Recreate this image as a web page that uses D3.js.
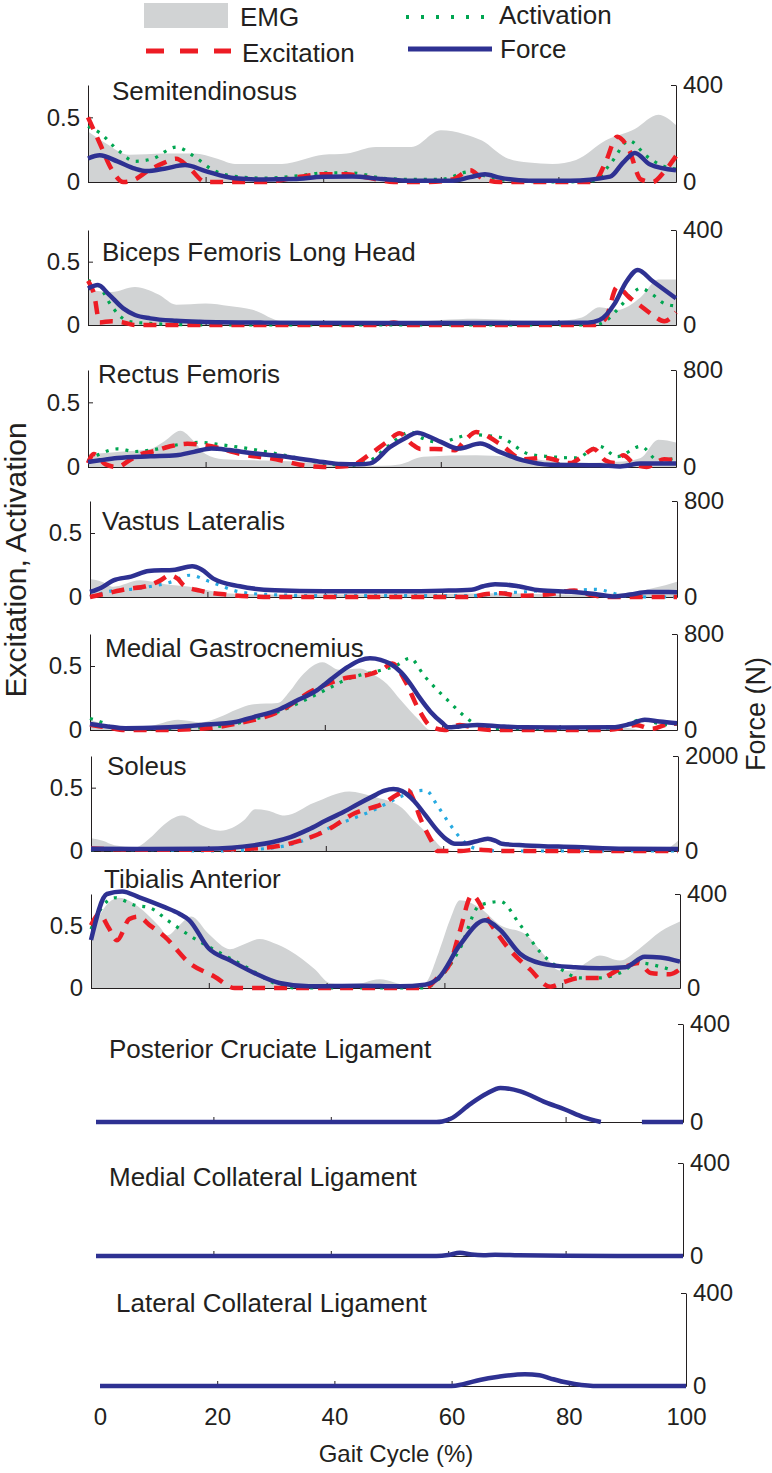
<!DOCTYPE html>
<html><head><meta charset="utf-8">
<script src="https://cdn.jsdelivr.net/npm/d3@7"></script>
<style>
body{margin:0;background:#fff}
svg{display:block}
text{font-family:"Liberation Sans",Arial,sans-serif;fill:#231f20}
</style>
</head><body>
<svg id="c" width="772" height="1473"></svg>
<script>
// ---------- categories / labels ----------
const panelNames = ["Semitendinosus","Biceps Femoris Long Head","Rectus Femoris","Vastus Lateralis",
  "Medial Gastrocnemius","Soleus","Tibialis Anterior","Posterior Cruciate Ligament",
  "Medial Collateral Ligament","Lateral Collateral Ligament"];
const forceMax = [400,400,800,800,800,2000,400,400,400,400];
const leftTickValues = [0,0.5];
const xTickValues = [0,20,40,60,80,100];
const legendLabels = ["EMG","Excitation","Activation","Force"];
const xTitle = "Gait Cycle (%)";
const yLeftTitle = "Excitation, Activation";
const yRightTitle = "Force (N)";

// ---------- series: [gait %, value] ----------
// Semitendinosus
const stEmg = [[0,0.39],[3,0.30],[7,0.21],[13,0.22],[18,0.22],[22,0.18],[25,0.14],[33,0.14],[40,0.21],[44,0.22],[49,0.27],[55,0.27],[60,0.40],[64,0.37],[67,0.32],[71,0.19],[75,0.15],[79,0.14],[83,0.17],[88,0.32],[93,0.41],[97,0.52],[100,0.44]];
const stExc = [[0,0.50],[2,0.30],[4,0.10],[6,0.0],[8,0.02],[10,0.08],[13,0.15],[15,0.18],[17,0.12],[20,0.0],[25,0.0],[30,0.0],[36,0.04],[40,0.06],[44,0.06],[48,0.03],[52,0.0],[58,0.0],[62,0.02],[65,0.09],[67,0.03],[70,0.0],[80,0.0],[86,0.0],[88,0.15],[90,0.35],[92,0.25],[94,0.02],[96,0.0],[98,0.08],[100,0.20]];
const stAct = [[0,0.43],[2,0.38],[5,0.25],[8,0.16],[11,0.18],[15,0.27],[18,0.20],[21,0.10],[24,0.05],[30,0.03],[36,0.05],[40,0.07],[45,0.07],[50,0.03],[55,0.02],[60,0.02],[65,0.08],[68,0.04],[72,0.01],[80,0.0],[86,0.01],[89,0.15],[92,0.32],[95,0.20],[98,0.12],[100,0.10]];
const stForce = [[0,97],[2,110],[5,85],[8,55],[10,45],[13,55],[16.5,70],[20,45],[25,15],[30,10],[35,12],[40,22],[45,23],[50,12],[55,5],[62,5],[65,20],[67.5,32],[70,18],[75,5],[82,5],[88.8,22],[91,80],[93,120],[95.6,72],[100,48]];
// Biceps Femoris Long Head
const bfEmg = [[0,0.28],[4,0.26],[8,0.30],[12,0.24],[15,0.16],[20,0.17],[24,0.15],[28,0.12],[33,0.03],[40,0.02],[53,0.02],[60,0.04],[66,0.05],[72,0.04],[79,0.03],[84,0.06],[87,0.14],[90,0.12],[94,0.22],[97,0.36],[100,0.36]];
const bfExc = [[0,0.35],[1,0.25],[2,0.02],[4,0.03],[6,0.02],[8,0.0],[20,0.0],[50,0.0],[52,0.02],[54,0.0],[86,0.0],[88,0.05],[90,0.30],[92,0.22],[94,0.15],[96,0.08],[98,0.03],[100,0.10]];
const bfAct = [[0,0.35],[2,0.30],[4,0.15],[6,0.05],[8,0.02],[20,0.0],[60,0.0],[86,0.0],[88,0.03],[90,0.12],[92,0.22],[94,0.29],[96,0.24],[98,0.17],[100,0.15]];
const bfForce = [[0,154],[1.7,168],[3.5,130],[6,70],[8,42],[10.6,28],[15,18],[19,14],[30,10],[50,8],[70,8],[85,10],[87,21],[89.6,91],[91.5,180],[93.5,232],[96,185],[100,112]];
// Rectus Femoris
const rfEmg = [[0,0.10],[6,0.12],[10.6,0.14],[13,0.20],[15.7,0.28],[18,0.20],[20,0.10],[23,0.06],[30,0.05],[36,0.04],[44.6,0.01],[50,0.01],[53,0.02],[57,0.08],[66,0.09],[74,0.07],[83,0.03],[90,0.04],[94,0.07],[97,0.21],[100,0.19]];
const rfExc = [[0,0.03],[1,0.10],[3,0.02],[5,0.0],[7,0.05],[9,0.10],[11,0.12],[14,0.16],[17,0.18],[21,0.16],[26,0.10],[32,0.06],[37,0.01],[40,0.0],[44.6,0.01],[48,0.10],[51,0.20],[53,0.26],[55,0.18],[56.5,0.14],[59,0.14],[62.4,0.13],[64,0.20],[66,0.27],[70,0.18],[74,0.06],[77.7,0.07],[82,0.03],[84,0.08],[86,0.14],[88,0.05],[89.6,0.03],[91,0.09],[93,0.02],[95,0.0],[98,0.06],[100,0.05]];
const rfAct = [[0,0.05],[2,0.10],[5,0.14],[8,0.12],[10.6,0.13],[15,0.17],[19,0.19],[23,0.17],[27.6,0.14],[33.5,0.09],[40,0.03],[44,0.01],[48,0.05],[51,0.16],[54.8,0.27],[57,0.22],[60,0.19],[63,0.23],[65,0.25],[70,0.23],[75,0.10],[78.6,0.08],[83,0.07],[87,0.16],[90,0.08],[94,0.16],[97,0.05],[100,0.07]];
const rfForce = [[0,41],[2,55],[5,74],[10.6,88],[15,97],[18,125],[21,152],[24,140],[27.6,116],[34,83],[40,41],[43,25],[46,22],[48,30],[51.4,166],[54,240],[56,283],[58,250],[60,207],[63,152],[66.7,193],[70,124],[74,55],[78.6,19],[87,14],[90.5,5],[94,28],[100,28]];
// Vastus Lateralis
const vlEmg = [[0,0.14],[2,0.12],[4,0.08],[8.5,0.13],[12.8,0.10],[17,0.08],[23,0.03],[30,0.02],[50,0.02],[70,0.03],[80,0.02],[91,0.03],[96,0.07],[100,0.12]];
const vlExc = [[0,0.0],[3,0.03],[6,0.06],[10,0.09],[12,0.13],[13.6,0.17],[15,0.14],[16,0.09],[18.7,0.05],[23,0.02],[31.5,0.0],[40,0.0],[50,0.0],[60,0.0],[65,0.0],[67,0.02],[70,0.03],[73,0.01],[78,0.02],[82.5,0.05],[85,0.02],[88.5,0.0],[95,0.0],[100,0.0]];
const vlAct = [[0,0.0],[4,0.05],[7,0.06],[10,0.08],[14,0.12],[17,0.17],[20.4,0.12],[25.5,0.04],[30,0.02],[40,0.01],[60,0.01],[65,0.01],[70,0.03],[74,0.04],[78,0.05],[82,0.05],[86,0.06],[91,0.01],[95,0.0],[100,0.0]];
const vlForce = [[0,42],[2,80],[4,139],[7,170],[10,217],[14.5,228],[17.4,256],[19,230],[21,153],[25.5,89],[31.5,56],[40,47],[52.8,47],[60,52],[65,61],[67,90],[69,106],[71,102],[73,89],[76.6,56],[82.5,42],[86,25],[89,5],[92,20],[95,42],[100,40]];
// Medial Gastrocnemius
const mgEmg = [[0,0.08],[2,0.05],[4,0.02],[10,0.03],[15,0.08],[19,0.06],[22,0.10],[25,0.16],[27.6,0.20],[32,0.21],[34,0.30],[36,0.42],[39.6,0.53],[42.5,0.47],[46,0.48],[48,0.44],[50.6,0.36],[53,0.23],[56,0.08],[58,0.0],[88,0.0],[91,0.02],[94,0.0],[100,0.0]];
const mgExc = [[0,0.04],[3,0.02],[6,0.0],[12,0.0],[19,0.01],[25,0.05],[32,0.14],[38,0.31],[43,0.40],[48,0.44],[50,0.48],[51.5,0.52],[53.6,0.39],[56,0.16],[58,0.03],[60.4,0.0],[63,0.04],[66,0.01],[68.5,0.0],[88,0.0],[91,0.02],[93,0.04],[95.7,0.01],[99,0.05],[100,0.05]];
const mgAct = [[0,0.09],[2,0.06],[4,0.02],[10,0.01],[20,0.02],[27.6,0.08],[32,0.14],[36,0.22],[40,0.31],[44,0.40],[49,0.46],[52,0.50],[54.5,0.56],[57,0.42],[61,0.23],[65,0.065],[67.6,0.01],[80,0.01],[90,0.02],[94,0.08],[97,0.05],[99,0.04],[100,0.05]];
const mgForce = [[0,50],[3,30],[6,14],[12,20],[19,42],[25,69],[28,110],[32,167],[35,240],[38.7,333],[41,420],[44,528],[46,580],[47.7,597],[49.5,585],[51,556],[53,480],[54.5,389],[56,280],[58,153],[60,60],[61,22],[63,30],[66,42],[70,30],[74,22],[80,20],[89,22],[92,50],[94.5,86],[97,70],[100,56]];
// Soleus
const soEmg = [[0,0.10],[2,0.08],[4,0.045],[7.6,0.03],[10,0.10],[12,0.19],[15.5,0.28],[19,0.20],[22,0.16],[26,0.24],[28,0.33],[30,0.32],[33,0.28],[38,0.38],[44,0.47],[48,0.43],[53,0.34],[55,0.24],[58,0.11],[60,0.02],[62,0.0],[97,0.0],[100,0.08]];
const soExc = [[0,0.02],[10,0.01],[20,0.01],[27.6,0.02],[34,0.06],[40,0.16],[45,0.30],[50,0.38],[52,0.44],[54,0.48],[55,0.40],[56,0.27],[58,0.08],[59,0.0],[63,0.0],[65.5,0.01],[70,0.0],[100,0.0]];
const soAct = [[0,0.01],[10,0.01],[20,0.0],[30,0.02],[36,0.08],[41,0.19],[48,0.32],[52.8,0.43],[55,0.47],[57,0.48],[59,0.36],[61,0.22],[63,0.10],[65.5,0.02],[70,0.0],[100,0.0]];
const soForce = [[0,49],[10,40],[19,45],[24,70],[27.6,118],[31,190],[34,293],[37,450],[40,641],[43,820],[45.5,990],[48,1150],[50,1270],[51.5,1303],[53,1260],[55,1059],[57,750],[59,432],[60.5,250],[62,153],[64,160],[65.5,200],[67.6,258],[69,210],[70,153],[74,118],[82.5,84],[91,49],[100,40]];
// Tibialis Anterior
const taEmg = [[0,0.39],[1.4,0.57],[3,0.68],[4.8,0.72],[8,0.65],[11.6,0.49],[13,0.42],[15,0.50],[17,0.57],[20,0.43],[23.6,0.31],[26,0.35],[28.6,0.39],[31,0.36],[33.7,0.30],[38,0.15],[40.5,0.04],[44,0.02],[49,0.07],[54,0.02],[56.7,0.04],[59,0.28],[61,0.55],[62.6,0.70],[66,0.64],[69.5,0.50],[73.7,0.43],[77,0.26],[79.6,0.14],[82,0.14],[84,0.20],[86.4,0.26],[89.8,0.22],[93,0.31],[96.7,0.45],[100,0.53]];
const taExc = [[0,0.50],[1.4,0.59],[3,0.48],[4.4,0.38],[6.5,0.55],[8,0.57],[10,0.50],[12.5,0.41],[16.7,0.20],[21,0.09],[24.4,0.0],[28.6,0.0],[33.7,0.0],[44,0.0],[52,0.0],[56.7,0.0],[59,0.09],[61,0.20],[62.6,0.45],[64.7,0.74],[67.6,0.53],[71,0.31],[74.5,0.15],[78,0.01],[80.4,0.05],[83,0.08],[86.4,0.08],[89.8,0.15],[93,0.20],[95,0.12],[98.3,0.11],[100,0.15]];
const taAct = [[0,0.47],[1.4,0.61],[4,0.72],[7.5,0.66],[10,0.64],[13,0.54],[16.7,0.42],[22.7,0.26],[27,0.15],[31,0.04],[35,0.0],[45,0.0],[56.7,0.0],[59,0.07],[62.6,0.31],[66,0.66],[69.5,0.69],[72.9,0.50],[76.4,0.28],[79.8,0.15],[83,0.08],[86.4,0.08],[89.8,0.12],[93,0.20],[96.7,0.17],[100,0.12]];
const taForce = [[0,204],[2.7,400],[5.3,411],[8.2,386],[12.5,344],[15,316],[16.7,288],[20,168],[23.5,119],[27.8,63],[32,21],[37,7],[45.6,10],[52.4,7],[56.7,14],[59,42],[62.6,182],[66.9,288],[69.5,246],[72.8,147],[76.4,105],[82.2,88],[86.4,84],[90.7,88],[94,133],[96.7,130],[100,112]];
// Ligaments (force only)
const pclForce = [[0,0],[58,0],[59,2],[60.4,13],[63.8,74],[66.5,115],[68.9,139],[72.3,125],[76.6,80],[80,50],[83,20],[86,0],[88,null],[93,0],[100,0]];
const mclForce = [[0,0],[58,0],[60,4],[62,14],[64,6],[66,3],[68,5],[72,3],[80,1],[100,0]];
const lclForce = [[0,0],[60,0],[62,8],[64.8,26],[68,40],[72.5,51],[75,46],[76.8,33],[79,18],[81,9],[85,0],[100,0]];

// table for drawing
const series = [
  {emg:stEmg, exc:stExc, act:stAct, force:stForce},
  {emg:bfEmg, exc:bfExc, act:bfAct, force:bfForce},
  {emg:rfEmg, exc:rfExc, act:rfAct, force:rfForce},
  {emg:vlEmg, exc:vlExc, act:vlAct, force:vlForce, actAlt:true},
  {emg:mgEmg, exc:mgExc, act:mgAct, force:mgForce},
  {emg:soEmg, exc:soExc, act:soAct, force:soForce, actAlt:true},
  {emg:taEmg, exc:taExc, act:taAct, force:taForce},
  {force:pclForce},
  {force:mclForce},
  {force:lclForce}
];

// ---------- layout (pixels) ----------
const layout = [
  {x0:88, x1:676, base:182, h:97, tx:112, ty:100},
  {x0:88, x1:676, base:325, h:95, tx:102, ty:261},
  {x0:88, x1:676, base:467, h:97, tx:98,  ty:383},
  {x0:90, x1:677, base:597, h:96, tx:102, ty:530},
  {x0:90, x1:677, base:730, h:96, tx:105, ty:657},
  {x0:91, x1:678, base:851, h:95, tx:107, ty:775},
  {x0:91, x1:680, base:988, h:94, tx:104, ty:888},
  {x0:96, x1:683, base:1122,h:98, tx:109, ty:1058},
  {x0:96, x1:683, base:1256,h:93, tx:109, ty:1186},
  {x0:100,x1:686, base:1386,h:93, tx:116, ty:1312}
];
const C = {emg:"#d1d3d4", exc:"#ed1c24", act:"#00a651", actAlt:"#27aae1", force:"#2e3192", axis:"#231f20"};

const svg = d3.select("#c");

layout.forEach((g, i) => {
  const s = series[i];
  const isMuscle = !!s.emg;
  const x = d3.scaleLinear().domain([0,100]).range([g.x0, g.x1]);
  const yL = d3.scaleLinear().domain([0,0.75]).range([g.base, g.base - g.h]);
  const yR = d3.scaleLinear().domain([0,forceMax[i]]).range([g.base, g.base - g.h]);
  const pg = svg.append("g");

  if (isMuscle) {
    const area = d3.area().x(d=>x(d[0])).y0(g.base).y1(d=>yL(Math.max(0,d[1]))).curve(d3.curveMonotoneX);
    pg.append("path").datum(s.emg).attr("d", area).attr("fill", C.emg);
  }

  const xa = pg.append("g").attr("transform", `translate(0,${g.base})`)
    .call(d3.axisBottom(x).tickValues([20,40,60,80]).tickSizeInner(-5).tickSizeOuter(0).tickFormat(""));
  xa.selectAll("path,line").attr("stroke", C.axis).attr("stroke-width", 1);

  if (isMuscle) {
    const la = pg.append("g").attr("transform", `translate(${g.x0},0)`)
      .call(d3.axisLeft(yL).tickValues(leftTickValues).tickSizeInner(-5).tickSizeOuter(0).tickPadding(8)
        .tickFormat(d => d === 0 ? "0" : String(d)));
    la.selectAll("path,line").attr("stroke", C.axis);
    la.selectAll("text").attr("font-size", 24).attr("font-family", null).attr("fill", C.axis);
  }
  const ra = pg.append("g").attr("transform", `translate(${g.x1},0)`)
    .call(d3.axisRight(yR).tickValues([0, forceMax[i]]).tickSizeInner(-5).tickSizeOuter(0).tickPadding(7)
      .tickFormat(d3.format("d")));
  ra.selectAll("path,line").attr("stroke", C.axis);
  ra.selectAll("text").attr("font-size", 24).attr("font-family", null).attr("fill", C.axis);

  const lineL = d3.line().defined(d=>d[1]!=null).x(d=>x(d[0])).y(d=>yL(d[1])).curve(d3.curveMonotoneX);
  const lineR = d3.line().defined(d=>d[1]!=null).x(d=>x(d[0])).y(d=>yR(d[1])).curve(d3.curveMonotoneX);

  if (isMuscle) {
    pg.append("path").datum(s.act).attr("d", lineL).attr("fill","none")
      .attr("stroke", s.actAlt ? C.actAlt : C.act).attr("stroke-width", 3.2).attr("stroke-dasharray","3,7");
    pg.append("path").datum(s.exc).attr("d", lineL).attr("fill","none")
      .attr("stroke", C.exc).attr("stroke-width", 4.5).attr("stroke-dasharray","13,9");
  }
  pg.append("path").datum(s.force).attr("d", lineR).attr("fill","none")
    .attr("stroke", C.force).attr("stroke-width", 4.5).attr("stroke-linejoin","round");

  pg.append("text").attr("x", g.tx).attr("y", g.ty).attr("font-size", 26).text(panelNames[i]);

  if (i === layout.length - 1) {
    const ba = pg.append("g").attr("transform", `translate(0,${g.base})`)
      .call(d3.axisBottom(x).tickValues(xTickValues).tickSize(0).tickPadding(22));
    ba.select(".domain").remove();
    ba.selectAll("text").attr("font-size", 24).attr("font-family", null).attr("fill", C.axis);
    svg.append("text").attr("x", (g.x0 + g.x1)/2 + 3).attr("y", 1462).attr("text-anchor","middle")
      .attr("font-size", 24).text(xTitle);
  }
});

svg.append("text").attr("transform","translate(26,560) rotate(-90)").attr("text-anchor","middle")
  .attr("font-size", 30).text(yLeftTitle);
svg.append("text").attr("transform","translate(765,714) rotate(-90)").attr("text-anchor","middle")
  .attr("font-size", 27).text(yRightTitle);

const lg = svg.append("g");
lg.append("rect").attr("x",144).attr("y",3).attr("width",84).attr("height",25).attr("fill",C.emg);
lg.append("line").attr("x1",146).attr("x2",231).attr("y1",51).attr("y2",51)
  .attr("stroke",C.exc).attr("stroke-width",5).attr("stroke-dasharray","18,16");
lg.append("line").attr("x1",406).attr("x2",484).attr("y1",17).attr("y2",17)
  .attr("stroke",C.act).attr("stroke-width",4).attr("stroke-dasharray","3,12");
lg.append("line").attr("x1",408).attr("x2",492).attr("y1",49).attr("y2",49)
  .attr("stroke",C.force).attr("stroke-width",5);
const legendPos = [[240,26],[242,62],[499,24],[500,58]];
legendLabels.forEach((t,k)=>{
  lg.append("text").attr("x",legendPos[k][0]).attr("y",legendPos[k][1]).attr("font-size",26).text(t);
});
</script>
</body></html>
